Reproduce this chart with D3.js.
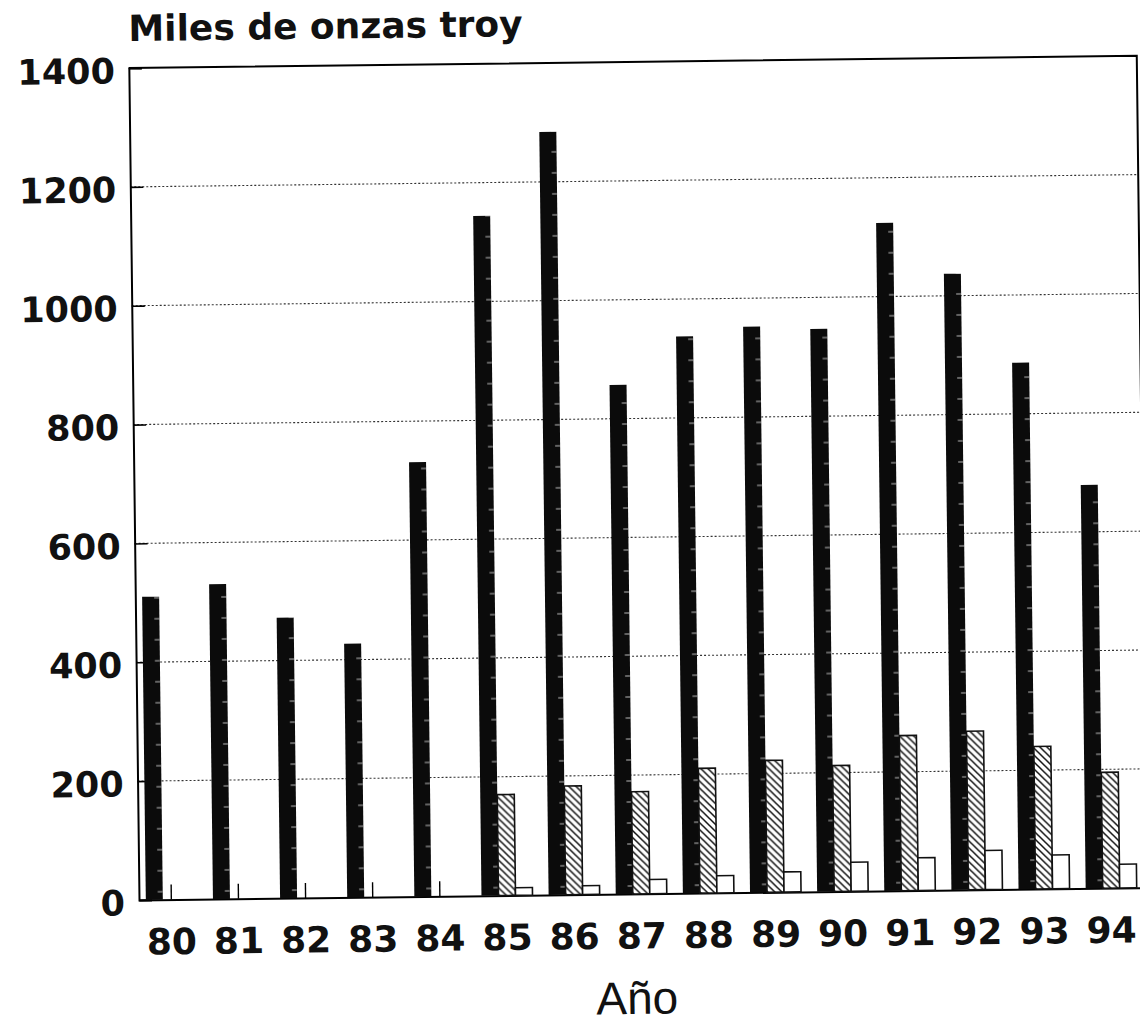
<!DOCTYPE html>
<html>
<head>
<meta charset="utf-8">
<script src="https://cdn.jsdelivr.net/npm/d3@7"></script>
<style>
  body { margin: 0; background: #fff; }
  svg { display: block; }
</style>
</head>
<body>
<svg id="chart"></svg>
<script>
// datos //
const years = ["80", "81", "82", "83", "84", "85", "86", "87", "88", "89", "90", "91", "92", "93", "94"];
const serieNegra = [510, 530, 472, 427, 731, 1144, 1284, 857, 937, 952, 947, 1124, 1037, 886, 679];
const serieRayada = [0, 0, 0, 0, 0, 170, 183, 172, 210, 222, 212, 261, 267, 240, 195];
const serieBlanca = [0, 0, 0, 0, 0, 13, 15, 24, 29, 34, 49, 55, 66, 57, 40];
const yTicks = [0, 200, 400, 600, 800, 1000, 1200, 1400];
const series = ["negra", "rayada", "blanca"];

const width = 1140,
      height = 1030;
const plotLeft = 139, plotRight = 1147, plotTop = 68, plotBottom = 900;

const rows = years.map((yr, i) => ({
    year: yr,
    negra: serieNegra[i],
    rayada: serieRayada[i],
    blanca: serieBlanca[i]
}));

const svg = d3.select("#chart")
    .attr("width", width)
    .attr("height", height);

svg.append("rect")
    .attr("width", width)
    .attr("height", height)
    .attr("fill", "#fff");

// patterns for the filled bars //
const defs = svg.append("defs");

const pNegro = defs.append("pattern")
    .attr("id", "negro")
    .attr("patternUnits", "userSpaceOnUse")
    .attr("width", 67.14)
    .attr("height", 21);
pNegro.append("rect").attr("width", 67.14).attr("height", 21).attr("fill", "#0b0b0b");
pNegro.append("line")
    .attr("x1", 12).attr("x2", 17).attr("y1", 10).attr("y2", 10)
    .attr("stroke", "#fff").attr("stroke-width", 1.2).attr("opacity", 0.6);

const pRaya = defs.append("pattern")
    .attr("id", "raya")
    .attr("patternUnits", "userSpaceOnUse")
    .attr("width", 7)
    .attr("height", 7);
pRaya.append("rect").attr("width", 7).attr("height", 7).attr("fill", "#fff");
pRaya.append("path")
    .attr("d", "M-1,-1 L8,8 M-1,6 L1,8 M6,-1 L8,1")
    .attr("stroke", "#111")
    .attr("stroke-width", 1.5);

const fills = { negra: "url(#negro)", rayada: "url(#raya)", blanca: "#fff" };

// the scanned page is slightly tilted, so the whole chart is rotated a bit //
const g = svg.append("g")
    .attr("transform", `rotate(-0.7, ${plotLeft}, ${plotBottom})`);

const x0 = d3.scaleBand()
    .domain(years)
    .range([plotLeft, plotRight])
    .paddingInner(0.24)
    .paddingOuter(0.127)
    .align(0.4);

const x1 = d3.scaleBand()
    .domain(series)
    .range([0, x0.bandwidth()]);

const y = d3.scaleLinear()
    .domain([0, 1400])
    .range([plotBottom, plotTop]);

// dotted grid lines //
g.append("g")
    .selectAll("line")
    .data(yTicks.filter(t => t > 0 && t < 1400))
    .join("line")
    .attr("x1", plotLeft)
    .attr("x2", plotRight)
    .attr("y1", d => y(d))
    .attr("y2", d => y(d))
    .attr("stroke", "#333")
    .attr("stroke-width", 1.1)
    .attr("stroke-dasharray", "2,2");

// y axis with short inner ticks //
const yAxis = g.append("g")
    .attr("transform", `translate(${plotLeft},0)`)
    .call(d3.axisLeft(y).tickValues(yTicks).tickFormat(d3.format("d")).tickSize(-13).tickPadding(14));
yAxis.select(".domain").attr("stroke", "#000").attr("stroke-width", 2);
yAxis.selectAll(".tick line").attr("stroke", "#000").attr("stroke-width", 1.6);
yAxis.selectAll(".tick text")
    .attr("font-family", "DejaVu Sans")
    .attr("font-weight", "bold")
    .attr("font-size", 35)
    .attr("fill", "#111")
    .attr("dy", "0.42em");

// x axis, ticks point up into the plot //
const xAxis = g.append("g")
    .attr("transform", `translate(0,${plotBottom})`)
    .call(d3.axisBottom(x0).tickSize(-15).tickSizeOuter(0).tickPadding(29));
xAxis.select(".domain").attr("stroke", "#000").attr("stroke-width", 2);
xAxis.selectAll(".tick line").attr("stroke", "#000").attr("stroke-width", 1.4);
xAxis.selectAll(".tick text")
    .attr("font-family", "DejaVu Sans")
    .attr("font-weight", "bold")
    .attr("font-size", 36)
    .attr("fill", "#111")
    .attr("dy", "0.71em");

// top and right border of the box //
g.append("path")
    .attr("d", `M${plotLeft},${plotTop} H${plotRight} V${plotBottom}`)
    .attr("fill", "none")
    .attr("stroke", "#000")
    .attr("stroke-width", 2);

// the bars //
g.append("g")
    .selectAll("g")
    .data(rows)
    .join("g")
    .attr("transform", d => `translate(${x0(d.year)},0)`)
    .selectAll("rect")
    .data(d => series.map(k => ({ key: k, value: d[k] })).filter(s => s.value > 0))
    .join("rect")
    .attr("x", d => x1(d.key))
    .attr("width", x1.bandwidth())
    .attr("y", d => y(d.value))
    .attr("height", d => y(0) - y(d.value))
    .attr("fill", d => fills[d.key])
    .attr("stroke", d => d.key === "negra" ? "none" : "#111")
    .attr("stroke-width", 1.6);

// titles //
g.append("text")
    .attr("x", 139)
    .attr("y", 41)
    .attr("font-family", "DejaVu Sans")
    .attr("font-weight", "bold")
    .attr("font-size", 36)
    .attr("fill", "#111")
    .text("Miles de onzas troy");

g.append("text")
    .attr("x", 636)
    .attr("y", 1020)
    .attr("text-anchor", "middle")
    .attr("font-family", "Liberation Sans")
    .attr("font-size", 46)
    .attr("fill", "#111")
    .text("Año");
</script>
</body>
</html>
